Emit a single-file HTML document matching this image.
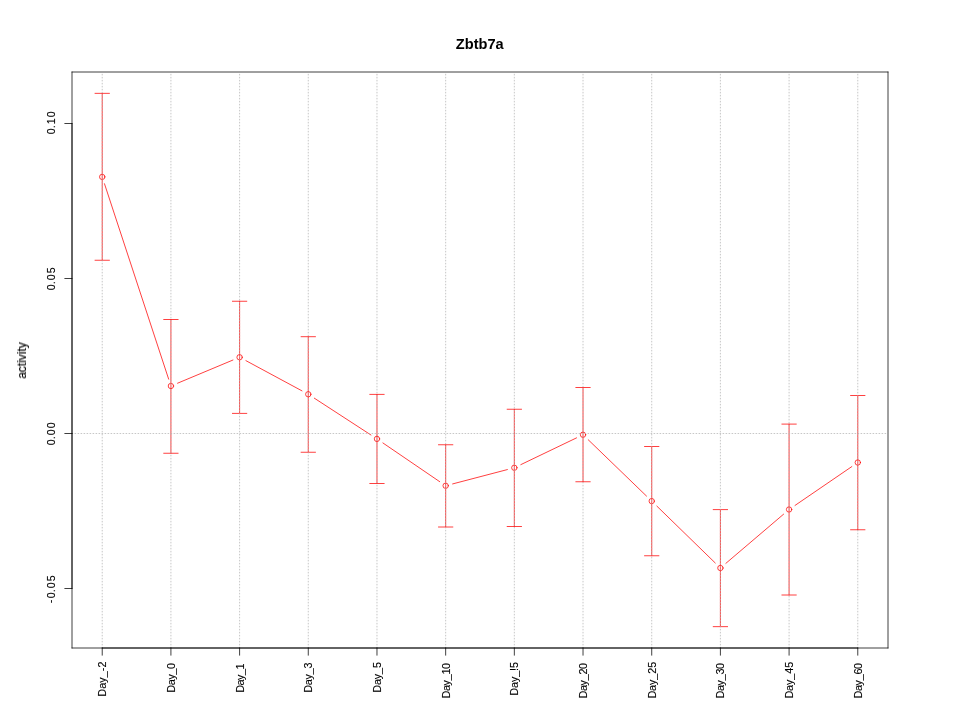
<!DOCTYPE html>
<html><head><meta charset="utf-8"><title>Zbtb7a</title>
<style>html,body{margin:0;padding:0;background:#fff;}svg{display:block;}text{font-family:"Liberation Sans",sans-serif;fill:#000;}</style></head><body>
<svg width="960" height="720" viewBox="0 0 960 720" style="will-change:transform">
<rect width="960" height="720" fill="#fff"/>
<g stroke="#ff0000" stroke-width="0.75" fill="none" stroke-linecap="round">
<line x1="104.47" y1="183.74" x2="168.66" y2="379.16"/>
<line x1="177.55" y1="383.22" x2="232.95" y2="360.03"/>
<line x1="245.93" y1="360.66" x2="301.94" y2="390.84"/>
<line x1="314.32" y1="398.17" x2="370.93" y2="434.98"/>
<line x1="382.92" y1="442.96" x2="439.71" y2="481.69"/>
<line x1="452.62" y1="483.92" x2="507.38" y2="469.58"/>
<line x1="520.83" y1="464.63" x2="576.54" y2="437.87"/>
<line x1="588.21" y1="439.75" x2="646.54" y2="496.10"/>
<line x1="656.87" y1="506.12" x2="715.25" y2="562.98"/>
<line x1="725.89" y1="563.33" x2="783.61" y2="514.17"/>
<line x1="795.03" y1="505.43" x2="851.84" y2="466.57"/>
<circle cx="102.22" cy="176.90" r="2.7"/>
<circle cx="170.91" cy="386.00" r="2.7"/>
<circle cx="239.60" cy="357.25" r="2.7"/>
<circle cx="308.28" cy="394.25" r="2.7"/>
<circle cx="376.97" cy="438.90" r="2.7"/>
<circle cx="445.66" cy="485.75" r="2.7"/>
<circle cx="514.34" cy="467.75" r="2.7"/>
<circle cx="583.03" cy="434.75" r="2.7"/>
<circle cx="651.72" cy="501.10" r="2.7"/>
<circle cx="720.40" cy="568.00" r="2.7"/>
<circle cx="789.09" cy="509.50" r="2.7"/>
<circle cx="857.78" cy="462.50" r="2.7"/>
<path d="M102.22 93.35V260.25M95.02 93.35H109.42M95.02 260.25H109.42"/>
<path d="M170.91 319.50V453.25M163.71 319.50H178.11M163.71 453.25H178.11"/>
<path d="M239.60 301.25V413.40M232.40 301.25H246.80M232.40 413.40H246.80"/>
<path d="M308.28 336.70V452.25M301.08 336.70H315.48M301.08 452.25H315.48"/>
<path d="M376.97 394.40V483.50M369.77 394.40H384.17M369.77 483.50H384.17"/>
<path d="M445.66 444.75V527.00M438.46 444.75H452.86M438.46 527.00H452.86"/>
<path d="M514.34 409.25V526.50M507.14 409.25H521.54M507.14 526.50H521.54"/>
<path d="M583.03 387.50V481.75M575.83 387.50H590.23M575.83 481.75H590.23"/>
<path d="M651.72 446.50V555.75M644.52 446.50H658.92M644.52 555.75H658.92"/>
<path d="M720.40 509.60V626.65M713.20 509.60H727.60M713.20 626.65H727.60"/>
<path d="M789.09 424.10V595.00M781.89 424.10H796.29M781.89 595.00H796.29"/>
<path d="M857.78 395.50V529.75M850.58 395.50H864.98M850.58 529.75H864.98"/>
</g>
<g stroke="#b4b4b4" stroke-width="0.75" fill="none" stroke-linecap="round" stroke-dasharray="0.75 2.25">
<line x1="102.22" y1="648" x2="102.22" y2="72"/>
<line x1="170.91" y1="648" x2="170.91" y2="72"/>
<line x1="239.60" y1="648" x2="239.60" y2="72"/>
<line x1="308.28" y1="648" x2="308.28" y2="72"/>
<line x1="376.97" y1="648" x2="376.97" y2="72"/>
<line x1="445.66" y1="648" x2="445.66" y2="72"/>
<line x1="514.34" y1="648" x2="514.34" y2="72"/>
<line x1="583.03" y1="648" x2="583.03" y2="72"/>
<line x1="651.72" y1="648" x2="651.72" y2="72"/>
<line x1="720.40" y1="648" x2="720.40" y2="72"/>
<line x1="789.09" y1="648" x2="789.09" y2="72"/>
<line x1="857.78" y1="648" x2="857.78" y2="72"/>
<line x1="72" y1="433.50" x2="888" y2="433.50"/>
</g>
<g stroke="#000" stroke-width="0.75" fill="none" stroke-linecap="round" stroke-linejoin="round">
<line x1="72" y1="72" x2="888" y2="72"/><line x1="888" y1="72" x2="888" y2="648"/><line x1="888" y1="648" x2="72" y2="648"/><line x1="72" y1="648" x2="72" y2="72"/>
<line x1="102.22" y1="648" x2="857.78" y2="648"/>
<line x1="102.22" y1="648" x2="102.22" y2="655.2"/>
<line x1="170.91" y1="648" x2="170.91" y2="655.2"/>
<line x1="239.60" y1="648" x2="239.60" y2="655.2"/>
<line x1="308.28" y1="648" x2="308.28" y2="655.2"/>
<line x1="376.97" y1="648" x2="376.97" y2="655.2"/>
<line x1="445.66" y1="648" x2="445.66" y2="655.2"/>
<line x1="514.34" y1="648" x2="514.34" y2="655.2"/>
<line x1="583.03" y1="648" x2="583.03" y2="655.2"/>
<line x1="651.72" y1="648" x2="651.72" y2="655.2"/>
<line x1="720.40" y1="648" x2="720.40" y2="655.2"/>
<line x1="789.09" y1="648" x2="789.09" y2="655.2"/>
<line x1="857.78" y1="648" x2="857.78" y2="655.2"/>
<line x1="72" y1="123.50" x2="72" y2="588.50"/>
<line x1="72" y1="123.50" x2="64.8" y2="123.50"/>
<line x1="72" y1="278.50" x2="64.8" y2="278.50"/>
<line x1="72" y1="433.50" x2="64.8" y2="433.50"/>
<line x1="72" y1="588.50" x2="64.8" y2="588.50"/>
</g>
<g style="filter:grayscale(1)">
<text transform="translate(479.75 49.1) scale(1 1.06)" font-size="14.6" font-weight="bold" text-anchor="middle">Zbtb7a</text>
<text transform="translate(26 360.5) rotate(-90)" font-size="12" stroke="#000" stroke-width="0.12" text-anchor="middle">activity</text>
<text transform="translate(55 134.30) rotate(-90)" font-size="10.6" stroke="#000" stroke-width="0.15" x="0 6.05 10 17">0.10</text>
<text transform="translate(55 290.20) rotate(-90)" font-size="10.6" stroke="#000" stroke-width="0.15" x="0 6.05 10 17">0.05</text>
<text transform="translate(55 445.24) rotate(-90)" font-size="10.6" stroke="#000" stroke-width="0.15" x="0 6.05 10 17">0.00</text>
<text transform="translate(55 603.20) rotate(-90)" font-size="10.6" stroke="#000" stroke-width="0.15" x="0 4.9 10.95 14.9 21.9" y="-0.9 0 0 0 0">-0.05</text>
<text transform="translate(106.12 696.69) rotate(-90)" font-size="10.8" letter-spacing="0.078" stroke="#000" stroke-width="0.12">Day_-2</text>
<text transform="translate(174.81 692.69) rotate(-90)" font-size="10.8" letter-spacing="-0.35" stroke="#000" stroke-width="0.12">Day_0</text>
<text transform="translate(243.50 692.69) rotate(-90)" font-size="10.8" letter-spacing="-0.534" stroke="#000" stroke-width="0.12">Day_1</text>
<text transform="translate(312.18 692.69) rotate(-90)" font-size="10.8" letter-spacing="-0.284" stroke="#000" stroke-width="0.12">Day_3</text>
<text transform="translate(380.87 692.69) rotate(-90)" font-size="10.8" letter-spacing="-0.147" stroke="#000" stroke-width="0.12">Day_5</text>
<text transform="translate(449.56 698.59) rotate(-90)" font-size="10.8" letter-spacing="-0.3" stroke="#000" stroke-width="0.12">Day_10</text>
<text transform="translate(518.24 695.65) rotate(-90)" font-size="10.8" letter-spacing="-0.126" stroke="#000" stroke-width="0.12">Day_!5</text>
<text transform="translate(586.93 698.59) rotate(-90)" font-size="10.8" letter-spacing="-0.3" stroke="#000" stroke-width="0.12">Day_20</text>
<text transform="translate(655.62 698.59) rotate(-90)" font-size="10.8" letter-spacing="-0.088" stroke="#000" stroke-width="0.12">Day_25</text>
<text transform="translate(724.30 698.59) rotate(-90)" font-size="10.8" letter-spacing="-0.3" stroke="#000" stroke-width="0.12">Day_30</text>
<text transform="translate(792.99 698.59) rotate(-90)" font-size="10.8" letter-spacing="-0.088" stroke="#000" stroke-width="0.12">Day_45</text>
<text transform="translate(861.68 698.59) rotate(-90)" font-size="10.8" letter-spacing="-0.3" stroke="#000" stroke-width="0.12">Day_60</text>
</g>
</svg></body></html>
